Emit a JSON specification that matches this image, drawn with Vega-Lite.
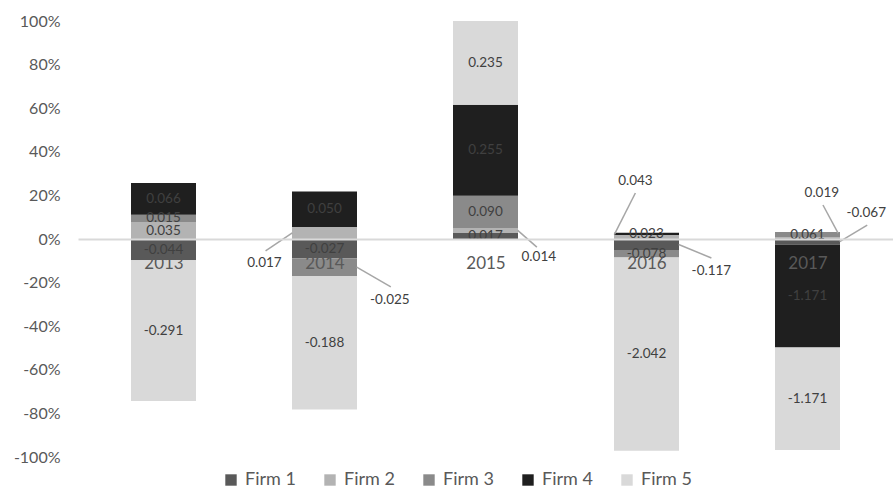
{
  "$schema": "https://vega.github.io/schema/vega-lite/v6.json",
  "width": 815,
  "height": 436,
  "autosize": {"type": "none"},
  "padding": {"left": 78, "top": 21, "right": 0, "bottom": 35},
  "background": "white",
  "config": {
    "view": {"stroke": null},
    "font": "Lato",
    "locale": {"number": {"decimal": ".", "thousands": ",", "grouping": [3], "currency": ["$", ""], "minus": "-"}}
  },
  "datasets": {
    "firms": [
      {"year": 2013, "firm": "Firm 1", "value": -0.044, "share": -0.0976, "callout": false},
      {"year": 2013, "firm": "Firm 2", "value": 0.035, "share": 0.0776, "callout": false},
      {"year": 2013, "firm": "Firm 3", "value": 0.015, "share": 0.0333, "callout": false},
      {"year": 2013, "firm": "Firm 4", "value": 0.066, "share": 0.1463, "callout": false},
      {"year": 2013, "firm": "Firm 5", "value": -0.291, "share": -0.6452, "callout": false},
      {"year": 2014, "firm": "Firm 1", "value": -0.027, "share": -0.0879, "callout": false},
      {"year": 2014, "firm": "Firm 2", "value": 0.017, "share": 0.0554, "callout": true},
      {"year": 2014, "firm": "Firm 3", "value": -0.025, "share": -0.0814, "callout": true},
      {"year": 2014, "firm": "Firm 4", "value": 0.050, "share": 0.1629, "callout": false},
      {"year": 2014, "firm": "Firm 5", "value": -0.188, "share": -0.6124, "callout": false},
      {"year": 2015, "firm": "Firm 1", "value": 0.017, "share": 0.0278, "callout": false},
      {"year": 2015, "firm": "Firm 2", "value": 0.014, "share": 0.0229, "callout": true},
      {"year": 2015, "firm": "Firm 3", "value": 0.090, "share": 0.1473, "callout": false},
      {"year": 2015, "firm": "Firm 4", "value": 0.255, "share": 0.4173, "callout": false},
      {"year": 2015, "firm": "Firm 5", "value": 0.235, "share": 0.3846, "callout": false},
      {"year": 2016, "firm": "Firm 1", "value": -0.117, "share": -0.0508, "callout": true},
      {"year": 2016, "firm": "Firm 2", "value": 0.043, "share": 0.0187, "callout": true},
      {"year": 2016, "firm": "Firm 3", "value": -0.078, "share": -0.0339, "callout": false},
      {"year": 2016, "firm": "Firm 4", "value": 0.023, "share": 0.0100, "callout": false},
      {"year": 2016, "firm": "Firm 5", "value": -2.042, "share": -0.8867, "callout": false},
      {"year": 2017, "firm": "Firm 1", "value": -0.067, "share": -0.0269, "callout": true},
      {"year": 2017, "firm": "Firm 2", "value": 0.019, "share": 0.0076, "callout": true},
      {"year": 2017, "firm": "Firm 3", "value": 0.061, "share": 0.0245, "callout": false},
      {"year": 2017, "firm": "Firm 4", "value": -1.171, "share": -0.4705, "callout": false},
      {"year": 2017, "firm": "Firm 5", "value": -1.171, "share": -0.4705, "callout": false}
    ],
    "callouts": [
      {"year": 2014, "firm": "Firm 2", "value": 0.017, "x0": 2013.8, "y0": 0.028, "x1": 2013.634, "y1": -0.055, "lx": 2013.627, "ly": -0.11},
      {"year": 2014, "firm": "Firm 3", "value": -0.025, "x0": 2014.2, "y0": -0.1286, "x1": 2014.412, "y1": -0.22, "lx": 2014.406, "ly": -0.28},
      {"year": 2015, "firm": "Firm 2", "value": 0.014, "x0": 2015.2, "y0": 0.0393, "x1": 2015.319, "y1": -0.037, "lx": 2015.331, "ly": -0.083},
      {"year": 2016, "firm": "Firm 2", "value": 0.043, "x0": 2015.8, "y0": 0.02, "x1": 2015.931, "y1": 0.211, "lx": 2015.931, "ly": 0.266},
      {"year": 2016, "firm": "Firm 1", "value": -0.117, "x0": 2016.2, "y0": -0.0254, "x1": 2016.403, "y1": -0.087, "lx": 2016.403, "ly": -0.147},
      {"year": 2017, "firm": "Firm 2", "value": 0.019, "x0": 2017.19, "y0": 0.027, "x1": 2017.096, "y1": 0.156, "lx": 2017.089, "ly": 0.211},
      {"year": 2017, "firm": "Firm 1", "value": -0.067, "x0": 2017.2, "y0": -0.012, "x1": 2017.371, "y1": 0.064, "lx": 2017.365, "ly": 0.119}
    ]
  },
  "layer": [
    {
      "data": {"name": "firms"},
      "transform": [
        {"stack": "share", "groupby": ["year"], "sort": [{"field": "firm", "order": "ascending"}], "offset": "zero", "as": ["s0", "s1"]}
      ],
      "mark": {"type": "bar", "width": 65, "orient": "vertical"},
      "encoding": {
        "x": {
          "field": "year", "type": "quantitative", "title": null,
          "scale": {"domain": [2012.5, 2017.5], "nice": false, "zero": false},
          "axis": {
            "values": [2013, 2014, 2015, 2016, 2017], "format": "d", "offset": -218,
            "domainColor": "#d9d9d9", "domainWidth": 2, "ticks": false, "tickSize": 0,
            "labelPadding": 16, "labelFontSize": 17, "labelColor": "#595959",
            "grid": false, "zindex": 1, "labelFlush": false
          }
        },
        "y": {
          "field": "s0", "type": "quantitative", "title": null,
          "scale": {"domain": [-1, 1], "nice": false, "zero": false},
          "axis": {
            "values": [-1, -0.8, -0.6, -0.4, -0.2, 0, 0.2, 0.4, 0.6, 0.8, 1], "format": ".0%",
            "domain": false, "ticks": false, "tickSize": 0, "grid": false,
            "labelPadding": 18, "labelFontSize": 16, "labelColor": "#595959"
          }
        },
        "y2": {"field": "s1"},
        "color": {
          "field": "firm", "type": "nominal",
          "scale": {"domain": ["Firm 1", "Firm 2", "Firm 3", "Firm 4", "Firm 5"], "range": ["#595959", "#b3b3b3", "#8a8a8a", "#1f1f1f", "#d9d9d9"]},
          "legend": {
            "orient": "none", "legendX": 144, "legendY": 450, "direction": "horizontal", "columns": 5,
            "title": null, "symbolType": "square", "symbolSize": 130, "symbolStrokeWidth": 0,
            "labelFontSize": 18, "labelColor": "#595959", "columnPadding": 25, "labelOffset": 5, "padding": 0
          }
        }
      }
    },
    {
      "data": {"name": "firms"},
      "transform": [
        {"stack": "share", "groupby": ["year"], "sort": [{"field": "firm", "order": "ascending"}], "offset": "zero", "as": ["s0", "s1"]},
        {"calculate": "(datum.s0 + datum.s1) / 2", "as": "mid"},
        {"filter": "!datum.callout"}
      ],
      "mark": {"type": "text", "fontSize": 13.5, "color": "#404040"},
      "encoding": {
        "x": {"field": "year", "type": "quantitative", "title": null},
        "y": {"field": "mid", "type": "quantitative", "title": null},
        "text": {"field": "value", "type": "quantitative", "format": ".3f"}
      }
    },
    {
      "data": {"name": "callouts"},
      "mark": {"type": "rule", "color": "#a6a6a6", "strokeWidth": 1.5},
      "encoding": {
        "x": {"field": "x0", "type": "quantitative", "title": null},
        "y": {"field": "y0", "type": "quantitative", "title": null},
        "x2": {"field": "x1"},
        "y2": {"field": "y1"}
      }
    },
    {
      "data": {"name": "callouts"},
      "mark": {"type": "text", "fontSize": 13.5, "color": "#404040"},
      "encoding": {
        "x": {"field": "lx", "type": "quantitative", "title": null},
        "y": {"field": "ly", "type": "quantitative", "title": null},
        "text": {"field": "value", "type": "quantitative", "format": ".3f"}
      }
    }
  ]
}
